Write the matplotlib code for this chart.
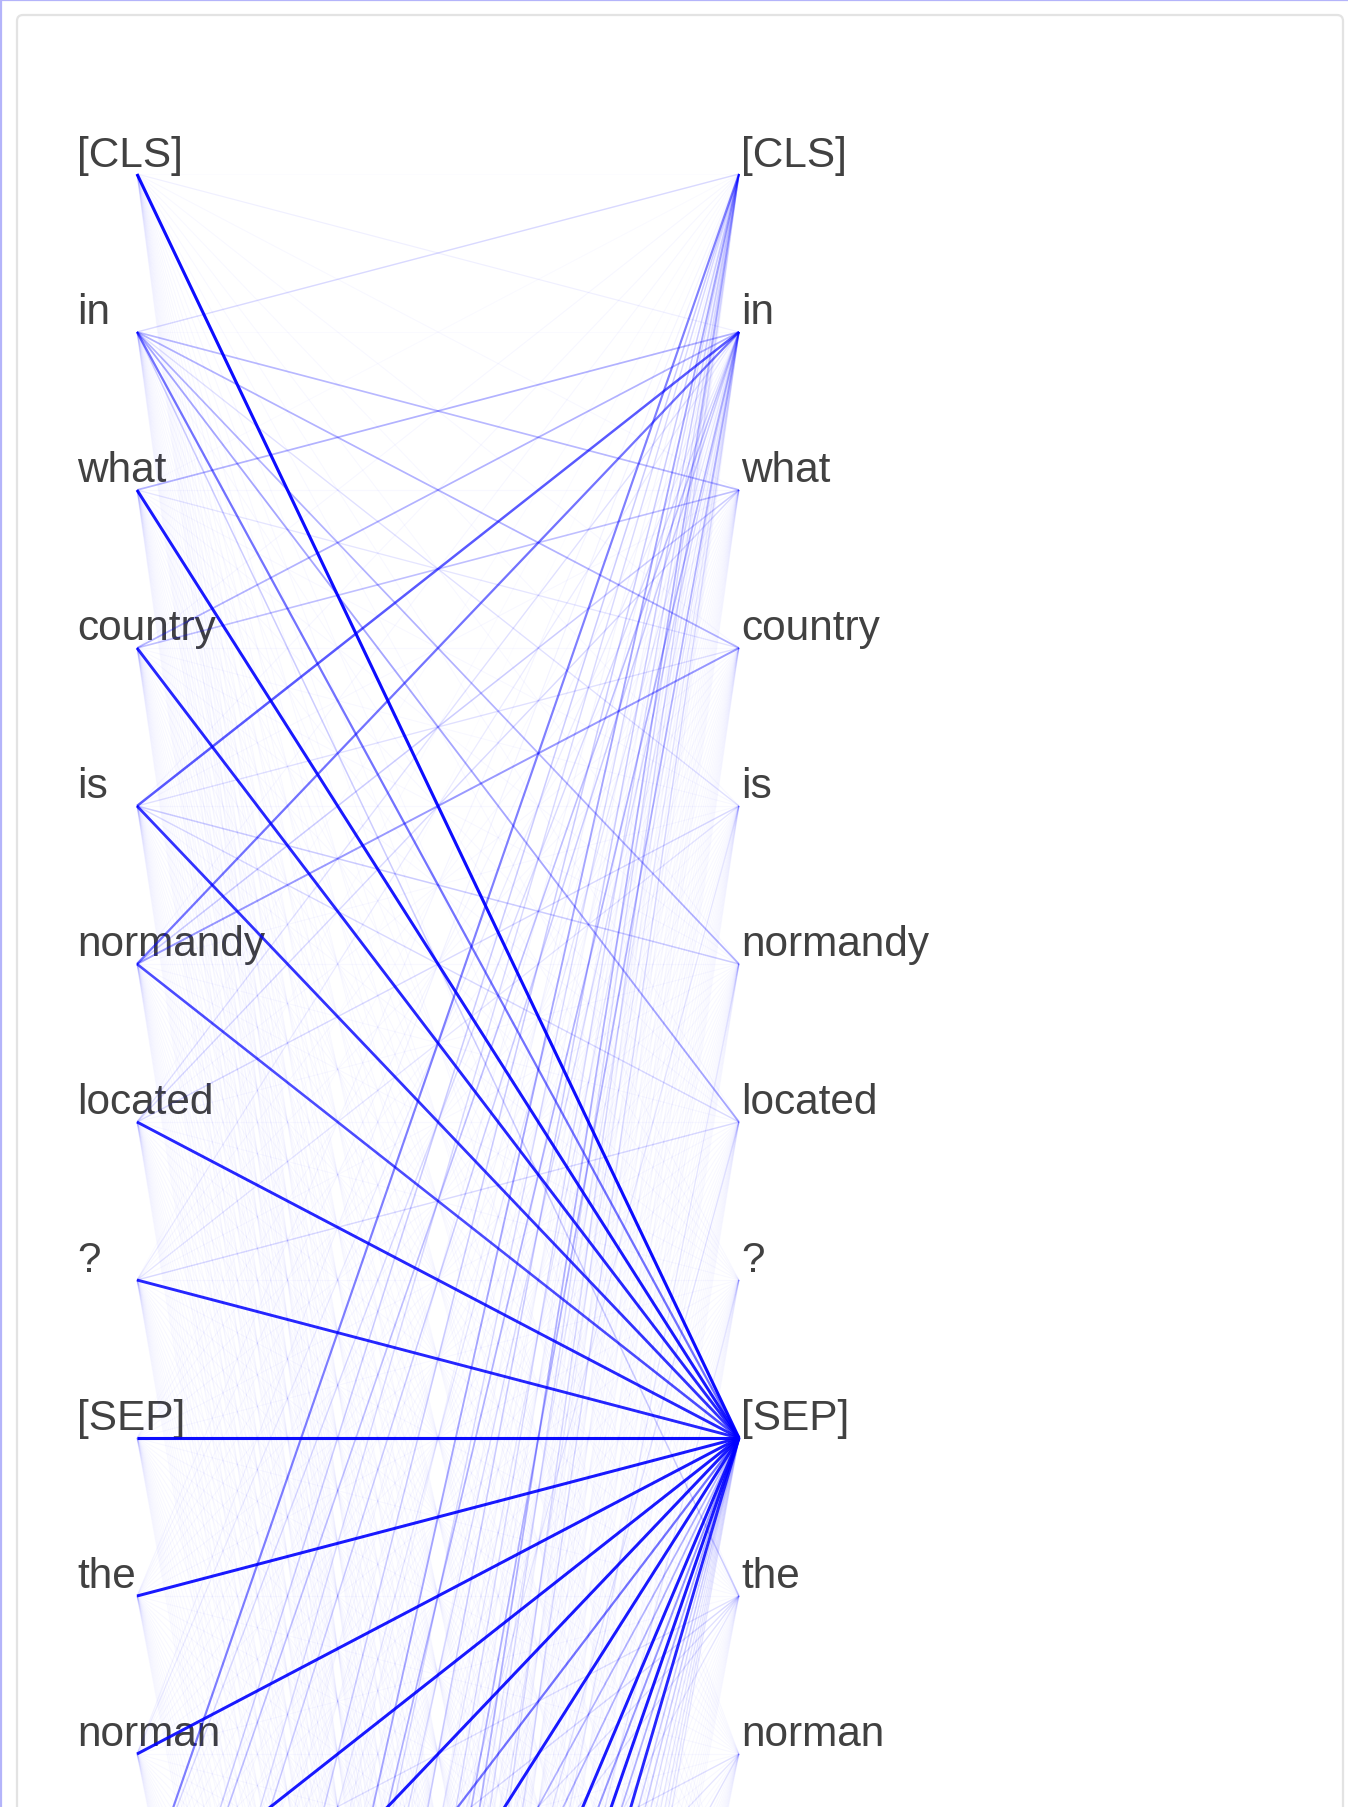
import numpy as np
import matplotlib.pyplot as plt
from matplotlib.collections import LineCollection
from matplotlib.patches import FancyBboxPatch

# Tokens of the question/context pair (only the first ones fit on the canvas)
tokens = ['[CLS]', 'in', 'what', 'country', 'is', 'normandy', 'located', '?', '[SEP]',
          'the', 'norman', '##s', '(', 'norman', ':', 'no', '##ur', '##man', '##ds', ';',
          'french', ':', 'norman', '##ds', ';', 'latin', ':', 'norman', '##ni', ')']

# attention of every token (left) to the first [SEP] (right)
sep_attn = [0.95, 0.55, 0.9, 0.85, 0.8, 0.7, 0.85, 0.85, 0.95, 0.9,
            0.9, 0.9, 0.9, 0.55, 0.9, 0.3, 0.3, 0.9, 0.4, 0.9,
            0.3, 0.85, 0.2, 0.2, 0.15, 0.1, 0.1, 0.1, 0.1, 0.1]

# attention of every token to [CLS]
cls_attn = [0.01, 0.15, 0.02, 0.03, 0.03, 0.03, 0.02, 0.02, 0.01, 0.04,
            0.05, 0.5, 0.2, 0.15, 0.04, 0.2, 0.05, 0.35, 0.15, 0.04,
            0.2, 0.04, 0.15, 0.05, 0.3, 0.15, 0.03, 0.15, 0.05, 0.03]

# attention of every token to "in"
in_attn = [0.06, 0.02, 0.3, 0.3, 0.65, 0.55, 0.12, 0.08, 0.02, 0.04,
           0.08, 0.15, 0.25, 0.2, 0.04, 0.1, 0.04, 0.3, 0.15, 0.04,
           0.1, 0.04, 0.3, 0.1, 0.04, 0.1, 0.03, 0.15, 0.04, 0.03]

# other visible links: (from, to, weight)
other_links = [(1, 2, 0.28), (1, 3, 0.3), (1, 4, 0.12), (1, 5, 0.3), (1, 6, 0.35),
               (1, 9, 0.2), (3, 2, 0.25), (5, 2, 0.2), (5, 3, 0.4), (4, 5, 0.2),
               (4, 6, 0.15), (4, 3, 0.12), (6, 2, 0.15), (6, 4, 0.15), (7, 6, 0.15),
               (7, 4, 0.1), (2, 3, 0.1), (11, 9, 0.12), (12, 9, 0.15), (13, 9, 0.12),
               (14, 9, 0.12), (16, 9, 0.1), (12, 10, 0.12), (14, 10, 0.1), (17, 10, 0.12),
               (20, 6, 0.12), (22, 7, 0.1), (24, 5, 0.1), (18, 4, 0.1)]

# everything else is very faint
faint_attn = 0.028

n = len(tokens)
attn = np.full((n, n), faint_attn)
attn[:, 0] = cls_attn
attn[:, 1] = in_attn
attn[:, 8] = sep_attn
for i, j, w in other_links:
    attn[i, j] = w

# layout (pixels)
W, H = 1348, 1808
left_x, right_x = 137, 739
top_y, row_h = 175, 158
ys = top_y + row_h * np.arange(n)

fig = plt.figure(figsize=(W / 100, H / 100), dpi=100)
ax = fig.add_axes([0, 0, 1, 1])
ax.set_xlim(0, W)
ax.set_ylim(H, 0)
ax.axis('off')

# frame
ax.add_patch(FancyBboxPatch((17, 16), 1326, 2000, boxstyle='round,pad=0,rounding_size=6',
                            fc='white', ec='#e3e3e3', lw=1.6, zorder=0))
ax.plot([0, W], [1, 1], color='#b4b4fa', lw=1.6, zorder=5)
ax.plot([1, 1], [0, H], color='#b4b4fa', lw=1.6, zorder=5)

# token labels (those that fall inside the picture)
for k, tok in enumerate(tokens):
    if ys[k] > H:
        break
    ax.text(77, ys[k] - 8.5, tok, fontsize=30.5, family='Liberation Sans',
            color='#414141', va='baseline', ha='left', zorder=1)
    ax.text(741, ys[k] - 8.5, tok, fontsize=30.5, family='Liberation Sans',
            color='#414141', va='baseline', ha='left', zorder=1)

# attention lines, opacity = weight
segs = []
cols = []
widths = []
for i in range(n):
    for j in range(n):
        w = min(attn[i, j], 1.0)
        segs.append([(left_x, ys[i]), (right_x, ys[j])])
        cols.append((0, 0, 1, w))
        widths.append(0.8 + 1.5 * w)
ax.add_collection(LineCollection(segs, colors=cols, linewidths=widths, zorder=2))

fig.savefig('out.png', dpi=100)
